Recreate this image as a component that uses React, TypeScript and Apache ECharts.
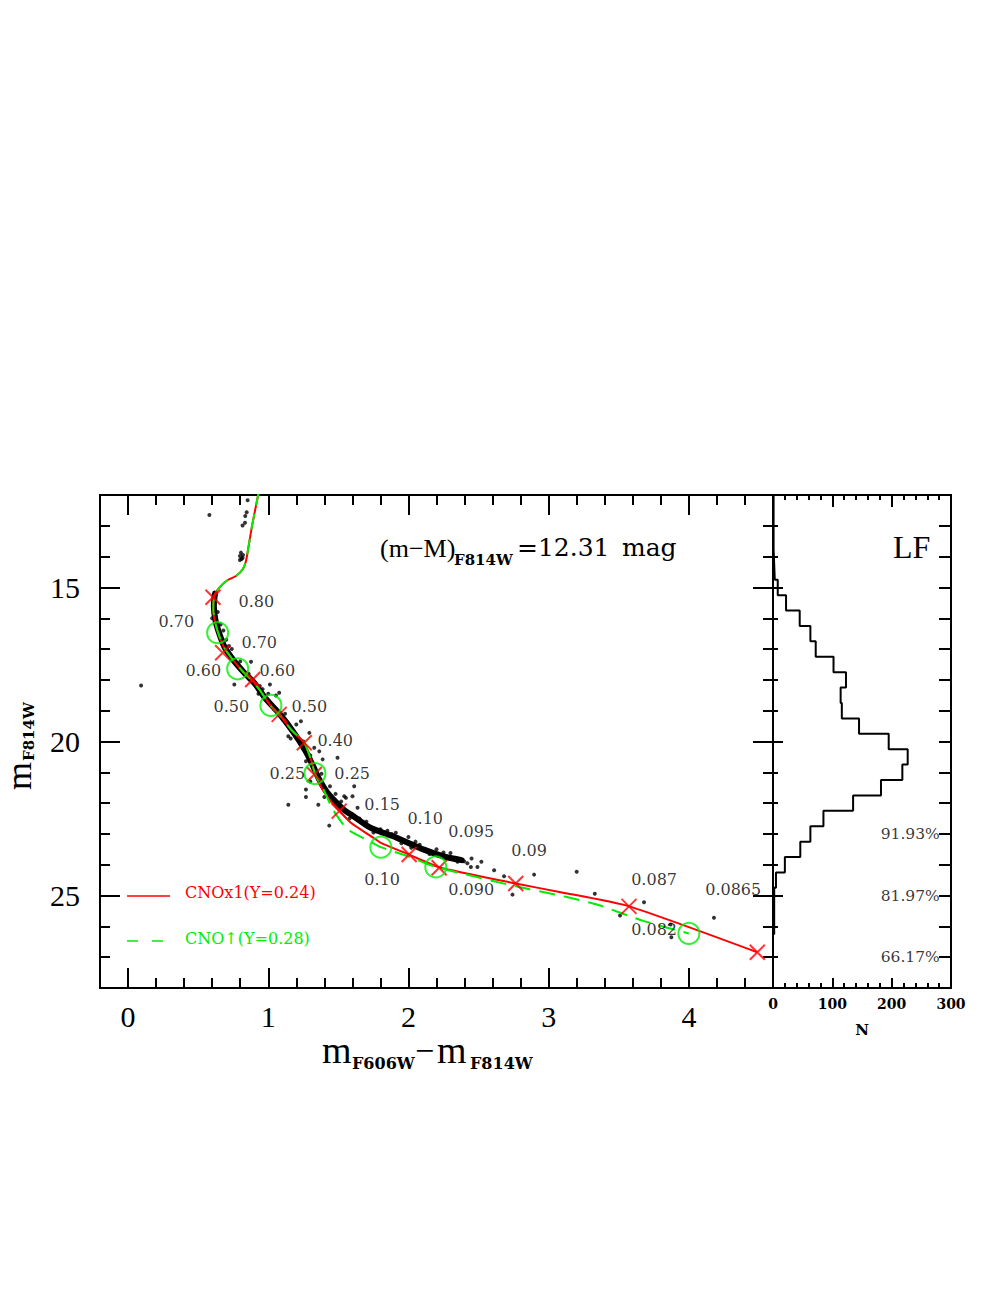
import React, { useEffect, useRef } from "react";
import * as echarts from "echarts";

// ---------------- data ----------------
// fiducial dense band of the main sequence (colour, magnitude)
const ridgeLine: number[][] = [
  [0.62, 15.2], [0.612, 15.6], [0.625, 16.1], [0.655, 16.55], [0.69, 16.95], [0.75, 17.35],
  [0.825, 17.75], [0.9, 18.1], [0.98, 18.6], [1.08, 19.1], [1.18, 19.7], [1.265, 20.3],
  [1.32, 20.8], [1.36, 21.2], [1.42, 21.65], [1.54, 22.22], [1.59, 22.37], [1.71, 22.75],
  [1.76, 22.86], [1.92, 23.13], [2.11, 23.51], [2.26, 23.74], [2.38, 23.85],
];

// individual stars outside / on the edge of the dense band
const stars: number[][] = [
  [0.58, 12.65], [0.853, 12.17], [0.846, 12.56], [0.836, 12.68], [0.817, 12.99], [0.834, 12.9],
  [0.805, 13.87], [0.798, 13.98], [0.817, 14.04], [0.798, 14.11], [0.81, 14.08], [0.82, 13.95],
  [0.093, 18.18], [0.877, 17.41], [1.012, 18.15], [0.758, 18.15], [1.078, 18.42], [1.055, 18.51],
  [0.96, 18.3], [0.93, 18.45], [1.233, 19.34], [1.143, 19.83], [1.293, 19.72], [1.328, 20.2],
  [1.364, 20.32], [1.388, 20.58], [1.494, 20.53], [1.269, 20.64], [1.3, 20.45], [1.143, 22.05],
  [1.269, 21.56], [1.269, 21.8], [1.357, 22.05], [1.613, 21.45], [1.601, 21.78], [1.554, 21.83],
  [1.637, 22.15], [1.435, 22.73], [1.542, 21.78], [1.48, 21.7], [1.91, 22.96], [1.8, 22.85],
  [2.0, 23.1], [2.05, 23.25], [2.2, 23.5], [2.3, 23.62], [2.35, 23.9], [2.397, 23.89],
  [2.445, 24.07], [2.492, 24.07], [2.45, 23.8], [2.52, 23.9], [2.611, 24.18], [2.682, 24.37],
  [2.742, 24.97], [2.896, 24.32], [3.2, 24.23], [3.329, 24.94], [3.509, 25.65], [3.68, 25.22],
  [3.87, 25.94], [3.875, 26.35], [4.179, 25.72], [0.66, 16.2], [0.7, 16.7], [0.74, 17.0],
  [0.86, 17.8], [1.0, 18.45], [1.12, 19.1], [1.2, 19.45], [1.16, 19.9], [1.22, 20.0],
  [1.33, 20.9], [1.3, 21.3], [1.38, 21.35], [1.44, 21.45], [1.52, 21.95], [0.64, 15.8],
  [0.6, 16.0], [0.68, 16.4], [0.72, 16.9], [0.8, 17.4], [0.94, 18.2], [1.04, 18.95],
  [1.13, 19.35], [1.25, 20.0], [1.38, 21.05], [1.47, 22.0], [1.4, 21.8], [1.58, 22.5],
  [1.65, 22.5], [1.7, 22.6], [1.75, 22.95], [1.85, 22.9], [1.95, 23.3], [2.08, 23.35],
  [2.15, 23.65], [2.25, 23.6], [2.32, 23.78], [2.42, 23.95], [1.88, 23.0], [2.02, 23.45],
];

// CNOx1 (Y=0.24) isochrone
const cnoNormalTrack: number[][] = [
  [0.936, 11.82], [0.912, 12.36], [0.884, 13.01], [0.86, 13.66], [0.841, 14.15], [0.817, 14.42],
  [0.77, 14.63], [0.711, 14.76], [0.656, 14.98], [0.615, 15.26], [0.608, 15.71], [0.622, 16.15],
  [0.651, 16.58], [0.686, 16.96], [0.746, 17.34], [0.817, 17.72], [0.889, 18.04], [0.936, 18.31],
  [1.019, 18.85], [1.09, 19.18], [1.162, 19.61], [1.257, 20.04], [1.304, 20.58], [1.333, 21.04],
  [1.388, 21.56], [1.447, 21.94], [1.506, 22.24], [1.589, 22.64], [1.732, 23.07], [1.803, 23.29],
  [2.005, 23.67], [2.219, 24.08], [2.765, 24.61], [3.086, 24.89], [3.573, 25.35], [4.488, 26.84],
];
// CNO-enhanced (Y=0.28) isochrone
const cnoEnhancedTrack: number[][] = [
  [0.936, 11.82], [0.912, 12.36], [0.884, 13.01], [0.86, 13.66], [0.841, 14.15], [0.817, 14.42],
  [0.77, 14.63], [0.711, 14.76], [0.656, 14.98], [0.615, 15.26], [0.608, 15.71], [0.622, 16.15],
  [0.651, 16.58], [0.686, 16.96], [0.746, 17.34], [0.817, 17.72], [0.889, 18.04], [0.936, 18.31],
  [1.019, 18.85], [1.09, 19.18], [1.162, 19.61], [1.257, 20.04], [1.304, 20.58], [1.333, 21.04],
  [1.4, 21.61], [1.459, 22.2], [1.566, 22.85], [1.732, 23.26], [1.803, 23.43], [1.993, 23.72],
  [2.195, 24.07], [2.765, 24.7], [3.122, 25.04], [3.35, 25.3], [3.68, 25.83], [4.0, 26.23],
];

// mass points along the tracks
const cnoNormalMasses: number[][] = [
  [0.606, 15.32], [0.675, 17.12], [0.889, 17.99], [1.078, 19.12], [1.257, 20.04], [1.328, 21.07],
  [1.506, 22.26], [2.005, 23.67], [2.219, 24.1], [2.765, 24.61], [3.573, 25.35], [4.488, 26.84],
];
const cnoNormalMassText = ["0.80", "0.70", "0.60", "0.50", "0.40", "0.25", "0.15", "0.10", "0.095", "0.09", "0.087", "0.0865"];
const cnoNormalTextAt: number[][] = [
  [0.784, 15.45], [0.805, 16.79], [0.934, 17.69], [1.162, 18.86], [1.347, 19.97], [1.468, 21.04],
  [1.682, 22.05], [1.989, 22.5], [2.281, 22.92], [2.73, 23.54], [3.585, 24.48], [4.113, 24.81],
];
const cnoEnhancedMasses: number[][] = [
  [0.639, 16.47], [0.782, 17.64], [1.019, 18.83], [1.333, 21.04], [1.803, 23.43], [2.195, 24.07], [4.0, 26.23],
];
const cnoEnhancedMassText = ["0.70", "0.60", "0.50", "0.25", "0.10", "0.090", "0.082"];
const cnoEnhancedTextAt: number[][] = [
  [0.214, 16.1], [0.406, 17.69], [0.606, 18.86], [1.005, 21.04], [1.682, 24.48], [2.281, 24.81], [3.585, 26.1],
];

// luminosity function (0.5 mag bins)
const lfBinStart = 11.75;
const lfBinWidth = 0.5;
const lfCounts = [
  1, 1, 1, 1, 2, 3, 8, 22, 45, 63, 72, 102, 123, 114, 116, 145, 195, 227, 218, 182,
  135, 85, 63, 46, 20, 5, 2, 2, 2, 0,
];
const lfPercentText = ["91.93%", "81.97%", "66.17%"];
const lfPercentMag = [23, 25, 27];
const lfPercentN = 282;

const colourTicks = [0, 1, 2, 3, 4];
const magTicks = [15, 20, 25];

// ---------------- chart ----------------
const SERIF = '"Liberation Serif", serif';
const DSERIF = '"DejaVu Serif", serif';
const BLACK = "#000";
const RED = "#ff0000";
const GREEN = "#00ee00";

function axis(o: any) {
  return {
    type: "value",
    splitLine: { show: false },
    axisLine: { show: true, onZero: false, lineStyle: { color: BLACK, width: 2 } },
    axisLabel: { show: false },
    ...o,
    axisTick: { show: true, inside: true, lineStyle: { color: BLACK, width: 2 }, ...(o.axisTick || {}) },
  };
}

export default function App() {
  const ref = useRef<HTMLDivElement>(null);
  useEffect(() => {
    if (!ref.current) return;
    const chart = echarts.init(ref.current, undefined, { renderer: "svg" });

    const mx = { gridIndex: 0, min: -0.2, max: 4.6 };
    const my = { gridIndex: 0, min: 12, max: 28, inverse: true };
    const lx = { gridIndex: 1, min: 0, max: 300 };
    const ly = { gridIndex: 1, min: 12, max: 28, inverse: true };

    const hist: number[][] = [];
    lfCounts.forEach((n, i) => {
      hist.push([n, lfBinStart + i * lfBinWidth]);
      hist.push([n, lfBinStart + (i + 1) * lfBinWidth]);
    });

    const labelSeries = (texts: string[], at: number[][]) => ({
      type: "scatter",
      xAxisIndex: 0,
      yAxisIndex: 0,
      symbolSize: 1,
      itemStyle: { color: "transparent" },
      z: 6,
      data: texts.map((t, i) => ({ name: t, value: at[i] })),
      label: {
        show: true,
        position: "right",
        distance: 0,
        formatter: "{b}",
        color: BLACK,
        fontFamily: DSERIF,
        fontSize: 16,
      },
    });

    const option: any = {
      animation: false,
      grid: [
        { left: 100, top: 495, width: 673, height: 493 },
        { left: 773, top: 495, width: 178, height: 493 },
      ],
      xAxis: [
        axis({
          ...mx, position: "bottom",
          axisTick: { length: 20, customValues: colourTicks },
          axisLabel: { show: true, customValues: colourTicks, fontSize: 30, fontFamily: SERIF, color: BLACK, margin: 13 },
        }),
        axis({ ...mx, position: "bottom", interval: 0.2, axisTick: { length: 10 } }),
        axis({ ...mx, position: "top", axisTick: { length: 20, customValues: colourTicks } }),
        axis({ ...mx, position: "top", interval: 0.2, axisTick: { length: 10 } }),
        axis({
          ...lx, position: "bottom", interval: 100,
          axisTick: { length: 10 },
          axisLabel: { show: true, fontSize: 14, fontWeight: "bold", fontFamily: DSERIF, color: BLACK, margin: 9 },
        }),
        axis({ ...lx, position: "bottom", interval: 20, axisTick: { length: 5 } }),
        axis({ ...lx, position: "top", interval: 100, axisTick: { length: 12 } }),
        axis({ ...lx, position: "top", interval: 20, axisTick: { length: 5 } }),
      ],
      yAxis: [
        axis({
          ...my, position: "left",
          axisTick: { length: 20, customValues: magTicks },
          axisLabel: { show: true, customValues: magTicks, fontSize: 30, fontFamily: SERIF, color: BLACK, margin: 20 },
        }),
        axis({ ...my, position: "left", interval: 1, axisTick: { length: 10 } }),
        axis({ ...my, position: "right", axisTick: { length: 20, customValues: magTicks } }),
        axis({ ...my, position: "right", interval: 1, axisTick: { length: 10 } }),
        axis({ ...ly, position: "left", axisTick: { length: 10, customValues: magTicks } }),
        axis({ ...ly, position: "left", interval: 1, axisTick: { length: 5 } }),
        axis({ ...ly, position: "right", interval: 1, axisTick: { length: 12 } }),
      ],
      series: [
        {
          type: "line", xAxisIndex: 0, yAxisIndex: 0, data: ridgeLine, symbol: "none", smooth: 0.3, z: 2,
          lineStyle: { color: BLACK, width: 6, cap: "round", join: "round" },
        },
        {
          type: "scatter", xAxisIndex: 0, yAxisIndex: 0, data: stars, symbolSize: 4, z: 2,
          itemStyle: { color: BLACK },
        },
        {
          type: "line", xAxisIndex: 0, yAxisIndex: 0, data: cnoNormalTrack, symbol: "none", smooth: 0.2, z: 3,
          lineStyle: { color: RED, width: 2 },
        },
        {
          type: "line", xAxisIndex: 0, yAxisIndex: 0, data: cnoEnhancedTrack, symbol: "none", smooth: 0.2, z: 4,
          lineStyle: { color: GREEN, width: 2, type: [16, 9] },
        },
        {
          type: "scatter", xAxisIndex: 0, yAxisIndex: 0, data: cnoNormalMasses, z: 5,
          symbol: "path://M0,0L10,10M10,0L0,10", symbolSize: 15,
          itemStyle: { color: "none", borderColor: RED, borderWidth: 2 },
        },
        {
          type: "scatter", xAxisIndex: 0, yAxisIndex: 0, data: cnoEnhancedMasses, z: 5,
          symbol: "circle", symbolSize: 21,
          itemStyle: { color: "none", borderColor: GREEN, borderWidth: 2 },
        },
        labelSeries(cnoNormalMassText, cnoNormalTextAt),
        labelSeries(cnoEnhancedMassText, cnoEnhancedTextAt),
        {
          type: "line", xAxisIndex: 4, yAxisIndex: 4, data: hist, symbol: "none", z: 3,
          lineStyle: { color: BLACK, width: 2 },
        },
        {
          type: "scatter", xAxisIndex: 4, yAxisIndex: 4, symbolSize: 1, itemStyle: { color: "transparent" },
          data: lfPercentText.map((t, i) => ({ name: t, value: [lfPercentN, lfPercentMag[i]] })),
          label: { show: true, position: "left", distance: 0, formatter: "{b}", color: BLACK, fontFamily: DSERIF, fontSize: 15.5 },
        },
      ],
      graphic: [
        { type: "text", x: 380, y: 548, style: { text: "(m−M)", font: `26px ${SERIF}`, fill: BLACK, verticalAlign: "middle" } },
        { type: "text", x: 454, y: 560, style: { text: "F814W", font: `bold 15px ${DSERIF}`, fill: BLACK, verticalAlign: "middle" } },
        { type: "text", x: 517, y: 547, style: { text: "=12.31", font: `25px ${DSERIF}`, fill: BLACK, verticalAlign: "middle" } },
        { type: "text", x: 622, y: 547, style: { text: "mag", font: `25px ${DSERIF}`, fill: BLACK, verticalAlign: "middle" } },
        { type: "text", x: 893, y: 547, style: { text: "LF", font: `32px ${SERIF}`, fill: BLACK, verticalAlign: "middle" } },
        { type: "text", x: 862, y: 1030, style: { text: "N", font: `bold 15px ${DSERIF}`, fill: BLACK, align: "center", verticalAlign: "middle" } },
        // x axis title
        { type: "text", x: 322, y: 1050, style: { text: "m", font: `38px ${SERIF}`, fill: BLACK, verticalAlign: "middle" } },
        { type: "text", x: 352, y: 1063, style: { text: "F606W", font: `bold 16px ${DSERIF}`, fill: BLACK, verticalAlign: "middle" } },
        { type: "text", x: 415, y: 1050, style: { text: "−", font: `34px ${SERIF}`, fill: BLACK, verticalAlign: "middle" } },
        { type: "text", x: 437, y: 1050, style: { text: "m", font: `38px ${SERIF}`, fill: BLACK, verticalAlign: "middle" } },
        { type: "text", x: 470, y: 1063, style: { text: "F814W", font: `bold 16px ${DSERIF}`, fill: BLACK, verticalAlign: "middle" } },
        // y axis title
        {
          type: "group", x: 19, y: 790, rotation: Math.PI / 2,
          children: [
            { type: "text", x: 0, y: 0, style: { text: "m", font: `36px ${SERIF}`, fill: BLACK, verticalAlign: "middle" } },
            { type: "text", x: 29, y: 10, style: { text: "F814W", font: `bold 15px ${DSERIF}`, fill: BLACK, verticalAlign: "middle" } },
          ],
        },
        // legend
        { type: "line", shape: { x1: 127, y1: 896, x2: 170, y2: 896 }, style: { stroke: RED, lineWidth: 1.5 } },
        { type: "text", x: 185, y: 892, style: { text: "CNOx1(Y=0.24)", font: `16px ${DSERIF}`, fill: RED, verticalAlign: "middle" } },
        { type: "line", shape: { x1: 127, y1: 941, x2: 164, y2: 941 }, style: { stroke: GREEN, lineWidth: 1.5, lineDash: [11, 14] } },
        { type: "text", x: 185, y: 938, style: { text: "CNO↑(Y=0.28)", font: `16px ${DSERIF}`, fill: GREEN, verticalAlign: "middle" } },
      ],
    };
    chart.setOption(option);
    return () => chart.dispose();
  }, []);
  return <div ref={ref} style={{ position: "absolute", left: 0, top: 0, width: 981, height: 1312, background: "#fff" }} />;
}
